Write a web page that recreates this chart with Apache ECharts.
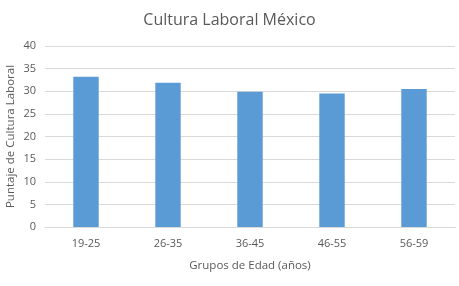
<!DOCTYPE html>
<html><head><meta charset="utf-8">
<script src="https://cdn.jsdelivr.net/npm/echarts@6/dist/echarts.min.js"></script>
<style>html,body{margin:0;padding:0;background:#fff}#c{width:459px;height:286px}</style>
</head><body><div id="c"></div>
<script>
const categories = ['19-25','26-35','36-45','46-55','56-59'];
const values = [33.2, 31.9, 29.9, 29.5, 30.5];
const yTicks = [0,5,10,15,20,25,30,35,40];
const font = 'Open Sans, Noto Sans, sans-serif';
const chart = echarts.init(document.getElementById('c'), null, {renderer:'canvas'});
chart.setOption({
  animation:false,
  backgroundColor:'#fff',
  title:{text:'Cultura Laboral México',left:'center',top:7,
    textStyle:{fontFamily:font,fontSize:16,fontWeight:'normal',color:'#595959'}},
  grid:{left:45,right:4,top:46,bottom:59,containLabel:false,outerBoundsMode:'none'},
  xAxis:{type:'category',data:categories,
    name:'Grupos de Edad (años)',nameLocation:'middle',nameGap:33,nameMoveOverlap:false,
    nameTextStyle:{fontFamily:font,fontSize:11.5,color:'#595959'},
    axisLine:{show:true,lineStyle:{color:'#d9d9d9'}},axisTick:{show:false},
    axisLabel:{fontFamily:font,fontSize:11,color:'#595959',margin:11}},
  yAxis:{type:'value',min:yTicks[0],max:yTicks[yTicks.length-1],interval:5,
    name:'Puntaje de Cultura Laboral',nameLocation:'middle',nameGap:28,nameMoveOverlap:false,
    nameTextStyle:{fontFamily:font,fontSize:11.5,color:'#595959'},
    axisLine:{show:false},axisTick:{show:false},
    axisLabel:{fontFamily:font,fontSize:11,color:'#595959',margin:9},
    splitLine:{lineStyle:{color:'#d9d9d9'}}},
  series:[{type:'bar',data:values,barWidth:'31%',itemStyle:{color:'#5b9bd5'}}]
});
</script></body></html>
